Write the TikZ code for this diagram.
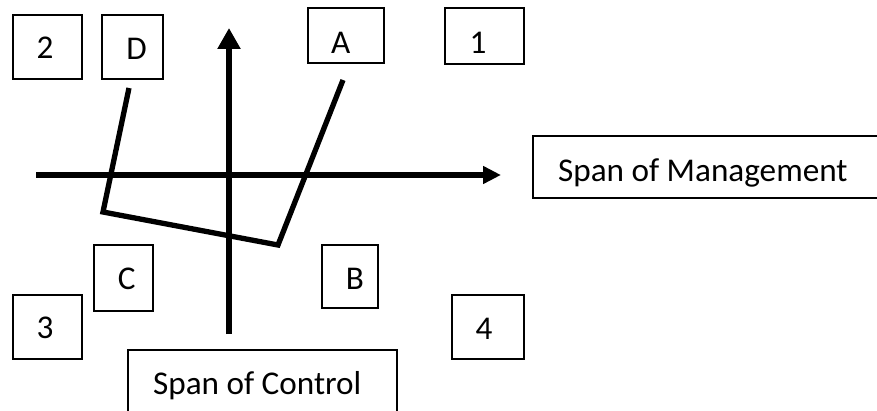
\documentclass[tikz,border=0pt]{standalone}
\usepackage{fontspec}
\setmainfont{Carlito}
\usetikzlibrary{arrows.meta}
\begin{document}
\begin{tikzpicture}[x=0.5pt,y=-0.5pt,
  box/.style={draw, line width=0.7pt, inner sep=0pt, fill=white},
  lbl/.style={inner sep=0pt, font=\fontsize{16.6}{20}\selectfont},
  axis/.style={line width=2.75pt},
  bentline/.style={line width=2.65pt, line join=miter}]
\useasboundingbox (0,0) rectangle (877,411);
\clip (0,0) rectangle (877,411);
% boxes
\node[box, minimum width=34.5pt, minimum height=32pt] (b2) at (47.5,47) {};
\node[box, minimum width=30.5pt, minimum height=32pt] (bD) at (132.5,47) {};
\node[box, minimum width=38pt, minimum height=27.5pt] (bA) at (346,35.5) {};
\node[box, minimum width=39.5pt, minimum height=28pt] (b1) at (484.5,36) {};
\node[box, minimum width=29.5pt, minimum height=33pt] (bC) at (123.5,278) {};
\node[box, minimum width=28pt, minimum height=31.5pt] (bB) at (350,276.5) {};
\node[box, minimum width=34.5pt, minimum height=32pt] (b3) at (47.5,327) {};
\node[box, minimum width=36pt, minimum height=32pt] (b4) at (488,327) {};
\node[box, minimum width=134.5pt, minimum height=50pt] (bCtrl) at (262.5,400) {};
\node[box, minimum width=193.5pt, minimum height=31pt] (bMgmt) at (726.5,167) {};
% labels
\node[lbl] (t2) at (45,48) {2};
\node[lbl] (tD) at (136.7,49) {D};
\node[lbl] (tA) at (340.7,43) {A};
\node[lbl] (t1) at (478,43) {1};
\node[lbl] (tC) at (126.7,279) {C};
\node[lbl] (tB) at (355,279) {B};
\node[lbl] (t3) at (45,328) {3};
\node[lbl] (t4) at (484,329) {4};
\node[lbl, anchor=base west] (tCtrl) at (152.7,394.3) {Span of Control};
\node[lbl, anchor=base west] (tMgmt) at (557.7,182) {Span of Management};
% axes
\coordinate (vbot) at (229,334);
\coordinate (vtop) at (229,28);
\coordinate (hl) at (36,175);
\coordinate (hr) at (501,175);
\draw[axis, -{Triangle[length=10.5pt,width=11pt]}] (vbot) -- (vtop);
\draw[axis, -{Triangle[length=9pt,width=8.5pt]}] (hl) -- (hr);
% bent line
\coordinate (p1) at (129,88);
\coordinate (p2) at (103,212);
\coordinate (p3) at (278,245);
\coordinate (p4) at (343,80);
\draw[bentline] (p1) -- (p2) -- (p3) -- (p4);
\end{tikzpicture}
\end{document}
